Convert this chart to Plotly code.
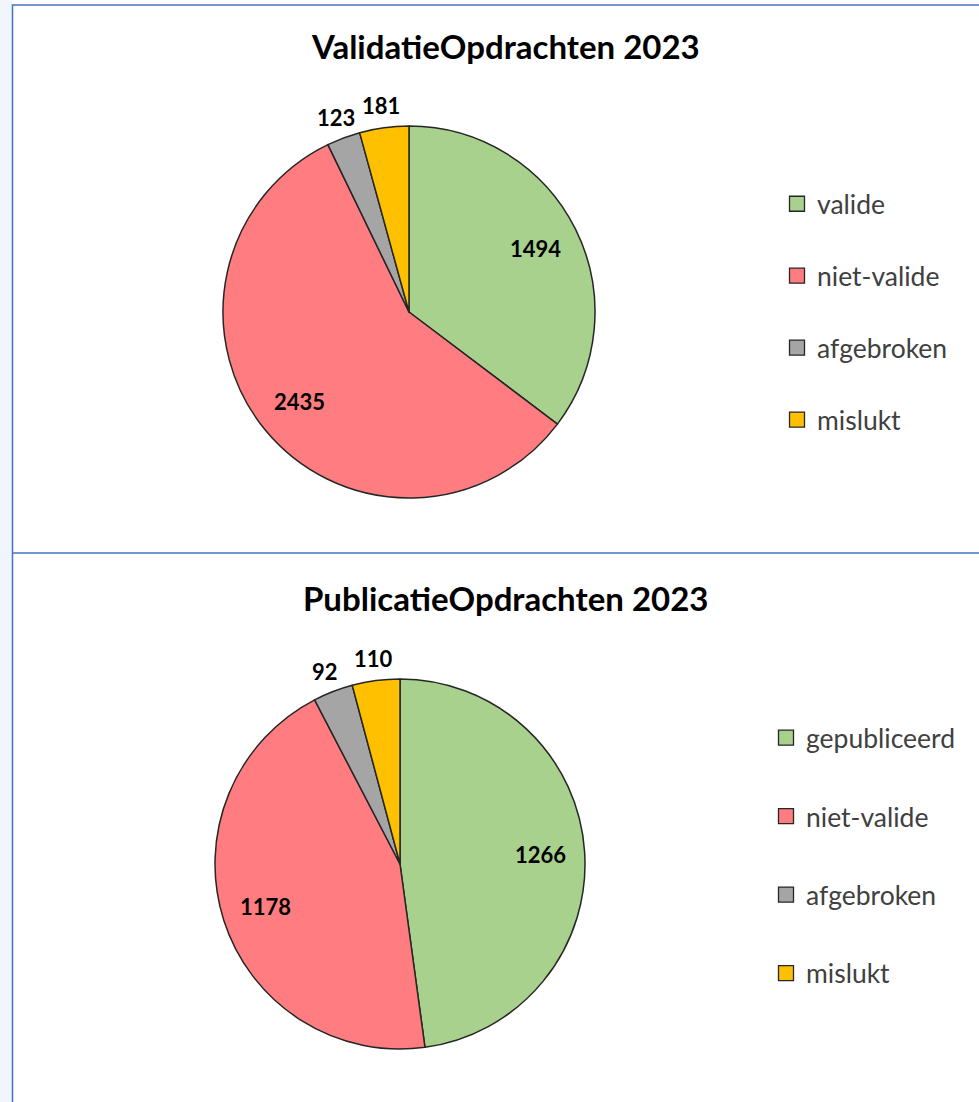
import math
import plotly.graph_objects as go

# Data
val_title = "ValidatieOpdrachten 2023"
val_labels = ["valide", "niet-valide", "afgebroken", "mislukt"]
val_values = [1494, 2435, 123, 181]

pub_title = "PublicatieOpdrachten 2023"
pub_labels = ["gepubliceerd", "niet-valide", "afgebroken", "mislukt"]
pub_values = [1266, 1178, 92, 110]

colors = ["#A9D18E", "#FF7C80", "#A5A5A5", "#FFC000"]
label_inside = [True, True, False, False]

W, H = 979, 1102
FONT = "Lato"
LABEL_FONT = dict(family=FONT, size=22, color="black", weight="bold")

fig = go.Figure()
annotations = []


def add_pie(labels, values, cx, cy, r):
    fig.add_trace(go.Pie(
        labels=labels, values=values, sort=False, direction="clockwise", rotation=0,
        marker=dict(colors=colors, line=dict(color="#262626", width=1.5)),
        textinfo="none",
        domain=dict(x=[(cx - r) / W, (cx + r) / W], y=[1 - (cy + r) / H, 1 - (cy - r) / H]),
        showlegend=False, hoverinfo="label+value+percent",
    ))
    # value labels placed along each slice's mid angle (derived from the data)
    total = sum(values)
    cum = 0
    for v, inside in zip(values, label_inside):
        mid = (cum + v / 2) / total * 2 * math.pi
        cum += v
        rr = r * 0.76 if inside else r + 22
        x = cx + rr * math.sin(mid)
        y = cy - rr * math.cos(mid)
        annotations.append(dict(text=str(v), x=x / W, y=1 - y / H, xref="paper", yref="paper",
                                xanchor="center", yanchor="middle", showarrow=False,
                                font=LABEL_FONT))


add_pie(val_labels, val_values, 409, 312, 186)
add_pie(pub_labels, pub_values, 400, 864, 185)

# Legend entries as dummy traces so that item spacing can be controlled
for i, (lab, col) in enumerate(zip(val_labels, colors)):
    fig.add_trace(go.Scatter(x=[None], y=[None], mode="markers", name=lab,
                             marker=dict(symbol="square", size=15, color=col,
                                         line=dict(color="#262626", width=1.3)),
                             legendgroup=f"v{i}", legend="legend"))
for i, (lab, col) in enumerate(zip(pub_labels, colors)):
    fig.add_trace(go.Scatter(x=[None], y=[None], mode="markers", name=lab,
                             marker=dict(symbol="square", size=15, color=col,
                                         line=dict(color="#262626", width=1.3)),
                             legendgroup=f"p{i}", legend="legend2"))

TITLE_FONT = dict(family=FONT, size=33, color="black", weight="bold")
annotations += [
    dict(text=val_title, x=505 / W, y=1 - 46 / H, xref="paper", yref="paper",
         xanchor="center", yanchor="middle", showarrow=False, font=TITLE_FONT),
    dict(text=pub_title, x=505 / W, y=1 - 598 / H, xref="paper", yref="paper",
         xanchor="center", yanchor="middle", showarrow=False, font=TITLE_FONT),
]

legend_font = dict(family=FONT, size=26.5, color="#404040")
fig.update_layout(
    width=W, height=H,
    margin=dict(l=0, r=0, t=0, b=0),
    paper_bgcolor="white", plot_bgcolor="white",
    xaxis=dict(visible=False), yaxis=dict(visible=False),
    legend=dict(x=777 / W, xanchor="left", y=1 - 180 / H, yanchor="top",
                font=legend_font, tracegroupgap=34.5, bgcolor="rgba(0,0,0,0)"),
    legend2=dict(x=766 / W, xanchor="left", y=1 - 714 / H, yanchor="top",
                 font=legend_font, tracegroupgap=41, bgcolor="rgba(0,0,0,0)"),
    annotations=annotations,
    shapes=[
        dict(type="rect", xref="paper", yref="paper", x0=0, x1=12 / W, y0=0, y1=1,
             fillcolor="#F0F6FB", line=dict(width=0), layer="below"),
        dict(type="rect", xref="paper", yref="paper", x0=12.5 / W, x1=1.01, y0=-0.01, y1=1 - 5 / H,
             line=dict(color="#4472C4", width=1.5), fillcolor="rgba(0,0,0,0)"),
        dict(type="line", xref="paper", yref="paper", x0=12.5 / W, x1=1, y0=1 - 553 / H, y1=1 - 553 / H,
             line=dict(color="#4472C4", width=1.5)),
    ],
)

fig.write_html("out.html", config={"displayModeBar": False},
               post_script="document.body.style.margin='0px';document.body.style.overflow='hidden';")
